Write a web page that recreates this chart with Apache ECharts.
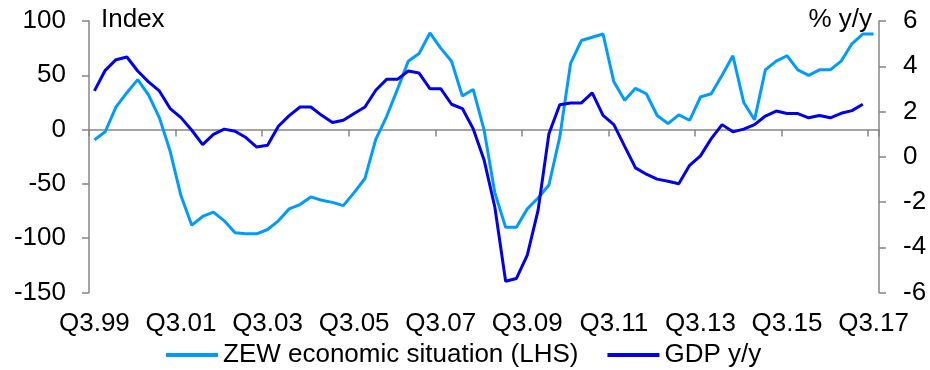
<!DOCTYPE html>
<html>
<head>
<meta charset="utf-8">
<script src="https://cdn.jsdelivr.net/npm/echarts@6/dist/echarts.min.js"></script>
<style>
html,body{margin:0;padding:0;background:#fff;}
#chart{width:930px;height:370px;}
</style>
</head>
<body>
<div id="chart"></div>
<script>
const quarters = [
'Q3.99','Q4.99',
'Q1.00','Q2.00','Q3.00','Q4.00',
'Q1.01','Q2.01','Q3.01','Q4.01',
'Q1.02','Q2.02','Q3.02','Q4.02',
'Q1.03','Q2.03','Q3.03','Q4.03',
'Q1.04','Q2.04','Q3.04','Q4.04',
'Q1.05','Q2.05','Q3.05','Q4.05',
'Q1.06','Q2.06','Q3.06','Q4.06',
'Q1.07','Q2.07','Q3.07','Q4.07',
'Q1.08','Q2.08','Q3.08','Q4.08',
'Q1.09','Q2.09','Q3.09','Q4.09',
'Q1.10','Q2.10','Q3.10','Q4.10',
'Q1.11','Q2.11','Q3.11','Q4.11',
'Q1.12','Q2.12','Q3.12','Q4.12',
'Q1.13','Q2.13','Q3.13','Q4.13',
'Q1.14','Q2.14','Q3.14','Q4.14',
'Q1.15','Q2.15','Q3.15','Q4.15',
'Q1.16','Q2.16','Q3.16','Q4.16',
'Q1.17','Q2.17','Q3.17'
];

const zewValues = [
-9.5,-2,21,34,46,32,11,-20,-61,-88,
-80,-76,-84,-95,-96,-96,-92,-84,-73,-69,
-62,-65,-67,-70,-58,-45,-9,12,37,63,
70,89,75,63,31,37,0,-58,-90,-90,
-73,-63,-51,-7,61,82,85,88,44,27,
38,33,13,5.5,13.5,8.6,30,33,50,68,
25,9,55,63,68,55,50,55,55,63,
79,88,88
];

const gdpValues = [
2.91,3.82,4.29,4.41,3.79,3.31,2.91,2.13,1.73,1.17,
0.54,0.99,1.22,1.13,0.85,0.43,0.51,1.35,1.82,2.2,
2.2,1.83,1.51,1.61,1.91,2.2,2.94,3.42,3.42,3.79,
3.7,3.01,3.01,2.32,2.13,1.24,-0.13,-2.22,-5.5,-5.38,
-4.35,-2.36,1.02,2.3,2.38,2.38,2.82,1.83,1.42,0.46,
-0.49,-0.77,-0.99,-1.08,-1.19,-0.38,0.04,0.8,1.42,1.1,
1.22,1.42,1.8,2.02,1.91,1.91,1.72,1.82,1.72,1.92,
2.04,2.32
];

const leftTicks = {min:-150, max:100, interval:50};
const rightTicks = {min:-6, max:6, interval:2};

const FONT = "'Liberation Sans', Arial, sans-serif";
const AXIS_GRAY = '#868686';
const ZEW_COLOR = '#009BFF';
const GDP_COLOR = '#0000EE';

const chart = echarts.init(document.getElementById('chart'), null, {renderer:'canvas'});
chart.setOption({
  animation:false,
  backgroundColor:'#ffffff',
  textStyle:{fontFamily:FONT},
  grid:{left:89, right:51, top:21, bottom:77.5, containLabel:false},
  legend:{
    left:166, top:340, padding:0,
    itemWidth:52, itemHeight:4, itemGap:29,
    icon:'rect',
    textStyle:{fontSize:26, color:'#000', fontFamily:FONT, lineHeight:30},
    data:['ZEW economic situation (LHS)','GDP y/y']
  },
  xAxis:[
    {
      type:'category', data:quarters, boundaryGap:true, position:'bottom',
      axisLine:{show:false, onZero:false},
      axisTick:{show:false},
      axisLabel:{interval:7, fontSize:26, color:'#000', fontFamily:FONT, margin:31.5, verticalAlign:'middle'},
      splitLine:{show:false}
    },
    {
      type:'category', data:quarters, boundaryGap:true, position:'bottom',
      axisLine:{show:true, onZero:true, onZeroAxisIndex:0, lineStyle:{color:AXIS_GRAY, width:1.5}},
      axisTick:{show:true, interval:7, length:7, lineStyle:{color:AXIS_GRAY, width:1.5}},
      axisLabel:{show:false},
      splitLine:{show:false}
    }
  ],
  yAxis:[
    {
      type:'value', position:'left', min:leftTicks.min, max:leftTicks.max, interval:leftTicks.interval,
      axisLine:{show:true, lineStyle:{color:AXIS_GRAY, width:1.5}},
      axisTick:{show:true, length:7, lineStyle:{color:AXIS_GRAY, width:1.5}},
      axisLabel:{fontSize:26, color:'#000', fontFamily:FONT, margin:23},
      splitLine:{show:false}
    },
    {
      type:'value', position:'right', min:rightTicks.min, max:rightTicks.max, interval:rightTicks.interval,
      axisLine:{show:true, lineStyle:{color:AXIS_GRAY, width:1.5}},
      axisTick:{show:true, length:7, lineStyle:{color:AXIS_GRAY, width:1.5}},
      axisLabel:{fontSize:26, color:'#000', fontFamily:FONT, margin:24},
      splitLine:{show:false}
    }
  ],
  graphic:[
    {type:'text', left:101, top:7, style:{text:'Index', fontSize:26, fill:'#000', font:"26px 'Liberation Sans', Arial, sans-serif"}},
    {type:'text', right:58, top:7, style:{text:'% y/y', fontSize:26, fill:'#000', font:"26px 'Liberation Sans', Arial, sans-serif"}}
  ],
  series:[
    {
      name:'ZEW economic situation (LHS)', type:'line', xAxisIndex:0, yAxisIndex:0,
      data:zewValues, symbol:'none', smooth:false,
      lineStyle:{color:ZEW_COLOR, width:3}, itemStyle:{color:ZEW_COLOR}
    },
    {
      name:'GDP y/y', type:'line', xAxisIndex:0, yAxisIndex:1,
      data:gdpValues, symbol:'none', smooth:false,
      lineStyle:{color:GDP_COLOR, width:3}, itemStyle:{color:GDP_COLOR}
    }
  ]
});
</script>
</body>
</html>
